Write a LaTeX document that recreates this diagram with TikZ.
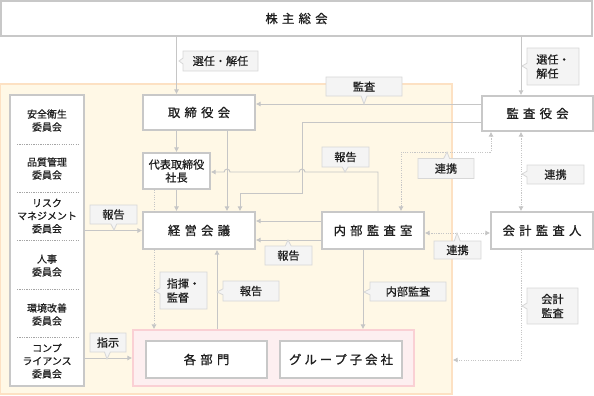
\documentclass[tikz,border=0pt]{standalone}
\usepackage{fontspec}
\setmainfont{Noto Sans CJK JP}[FakeBold=0.6]
\newfontfamily\ttlfont{Noto Sans CJK JP}[LetterSpace=35, FakeBold=1]
\newfontfamily\ttlnarrow{Noto Sans CJK JP}[LetterSpace=25, FakeBold=1]
\usepackage{xcolor}
\usetikzlibrary{arrows.meta,positioning,fit,calc,shapes.callouts}
\definecolor{boxline}{RGB}{200,200,200}
\definecolor{wire}{RGB}{198,198,198}
\definecolor{ink}{RGB}{30,30,30}
\definecolor{orgline}{RGB}{253,225,195}
\definecolor{orgfill}{RGB}{255,248,230}
\definecolor{pnkline}{RGB}{250,208,212}
\definecolor{pnkfill}{RGB}{253,239,240}
\definecolor{lblline}{RGB}{215,215,215}
\definecolor{lblfill}{RGB}{244,244,244}

\begin{document}
\begin{tikzpicture}[x=0.03cm, y=-0.03cm,
  box/.style={draw=boxline, line width=1.5pt, fill=white, text=ink, align=center, inner sep=1pt},
  ttl/.style={box, font=\ttlfont\fontsize{10.5}{13}\selectfont},
  area/.style={line width=1.5pt, inner sep=0pt},
  cmte/.style={text=ink, align=center, font=\fontsize{8.5}{11}\selectfont},
  lbl/.style={rectangle callout, draw=lblline, fill=lblfill, line width=0.7pt, text=ink, align=center, inner sep=1pt, callout pointer width=5pt, font=\fontsize{9.5}{12}\selectfont},
  arr/.style={-{Latex[length=4pt,width=4.5pt]}, line width=0.8pt, wire},
  dotarr/.style={arr, dash pattern=on 1pt off 1pt},
  dboth/.style={dotarr, {Latex[length=4pt,width=4.5pt]}-{Latex[length=4pt,width=4.5pt]}},
  sepline/.style={ink!40, dash pattern=on 1pt off 1pt, line width=0.6pt}
]
\useasboundingbox (0,0) rectangle (594,396);
% --- areas ---
\node[area, draw=orgline, fill=orgfill, fit={(0,84)(452,394)}] (corp) {};
\node[area, draw=pnkline, fill=pnkfill, fit={(133,330)(414,386)}] (grpco) {};
% --- boxes ---
\node[ttl, minimum width=17.73cm, minimum height=1.05cm] (gm)   at (296.5,18.5) {株主総会};
\node[ttl, minimum width=3.36cm,  minimum height=1.05cm] (bod)  at (199,112.5)  {取締役会};
\node[box, font=\fontsize{9.5}{11}\selectfont, minimum width=2.01cm, minimum height=1.08cm] (ceo) at (176.5,171) {代表取締役\\社長};
\node[ttl, minimum width=3.36cm,  minimum height=1.11cm] (mgmt) at (199,230.5)  {経営会議};
\node[ttl, minimum width=3.06cm,  minimum height=1.11cm] (ia)   at (373,230.5)  {内部監査室};
\node[ttl, minimum width=3.33cm,  minimum height=1.05cm] (aud)  at (537.5,113.5) {監査役会};
\node[ttl, minimum width=3.06cm,  minimum height=1.11cm] (acc)  at (542,230.5)  {会計監査人};
\node[ttl, minimum width=3.63cm,  minimum height=1.11cm] (div)  at (206.5,359.5) {各部門};
\node[ttl, font=\ttlnarrow\fontsize{10.5}{13}\selectfont, minimum width=3.66cm, minimum height=1.11cm] (sub) at (341,359.5) {グループ子会社};
% --- committees ---
\node[box, minimum width=2.22cm, minimum height=8.73cm] (comm) at (47,240.5) {};
\node[cmte] (c1) at (47,120.5) {安全衛生\\委員会};
\node[cmte] (c2) at (47,168.5) {品質管理\\委員会};
\node[cmte] (c3) at (47,216)   {リスク\\マネジメント\\委員会};
\node[cmte] (c4) at (47,265.5) {人事\\委員会};
\node[cmte] (c5) at (47,314.5) {環境改善\\委員会};
\node[cmte] (c6) at (47,361)   {コンプ\\ライアンス\\委員会};
\foreach \y in {144,192,240,289,337}
  \draw[sepline] (17,\y) -- (78,\y);
% --- appointment ---
\coordinate (rx) at (521,0);
\draw[arr] (gm.south -| ceo) -- (bod.north -| ceo);
\draw[arr] (gm.south -| rx) -- (aud.north -| rx);
% --- board and management ---
\draw[arr] (bod.south -| ceo) -- (ceo.north);
\draw[arr] (ceo.south) -- (mgmt.north -| ceo);
\draw[arr] (bod.south -| 227,0) -- (mgmt.north -| 227,0);
% --- audit ---
\draw[arr] (aud.west |- 0,104) -- (bod.east |- 0,104);
\draw[arr] (aud.west |- 0,122) -- (302,122) -- (302,193) -- (240,193) -- (mgmt.north -| 240,0);
\draw[arr] (ia.north -| 378,0) -- (378,172) -- (305,172) arc (0:180:2.5pt) -- (230,172) arc (0:180:2.5pt) -- (ceo.east |- 0,172);
% --- liaison ---
\draw[dboth] (aud.south -| 491,0) -- (491,152) -- (401,152) -- (ia.north -| 401,0);
\draw[dboth] (aud.south -| rx) -- (acc.north -| rx);
\draw[dboth] (ia.east |- 0,233) -- (acc.west |- 0,233);
% --- reports ---
\draw[arr] (ia.west |- 0,221) -- (mgmt.east |- 0,221);
\draw[arr] (ia.west |- 0,240) -- (mgmt.east |- 0,240);
\draw[arr] (comm.east |- mgmt) -- (mgmt.west);
\draw[arr] (comm.east |- grpco) -- (grpco.west);
\draw[arr] (grpco.north -| 217,0) -- (mgmt.south -| 217,0);
% --- command and audit of divisions ---
\draw[dotarr, -] (ceo.south -| 154,0) -- (mgmt.north -| 154,0);
\draw[dotarr] (mgmt.south -| 154,0) -- (grpco.north -| 154,0);
\draw[arr] (ia.south -| 363,0) -- (grpco.north -| 363,0);
\draw[dotarr] (acc.south -| rx) |- (corp.east |- 0,360);
% --- labels ---
\node[lbl, minimum width=2.25cm, minimum height=0.6cm, callout absolute pointer={(179,61)}] (l1) at (220.5,61) {選任・解任};
\node[lbl, align=left, minimum width=1.56cm, minimum height=1.11cm, callout absolute pointer={(522,66)}] (l2) at (553,66.5) {選任・\\解任};
\node[lbl, minimum width=2.28cm, minimum height=0.57cm, callout absolute pointer={(364,104)}] (l3) at (364,86.5) {監査};
\node[lbl, minimum width=1.41cm, minimum height=0.6cm, callout absolute pointer={(345,172)}] (l4) at (345.5,157) {報告};
\node[lbl, minimum width=1.68cm, minimum height=0.6cm, callout absolute pointer={(447,152)}] (l5) at (446,168.5) {連携};
\node[lbl, minimum width=1.71cm, minimum height=0.57cm, callout absolute pointer={(522,174)}] (l6) at (555.5,174.5) {連携};
\node[lbl, minimum width=1.41cm, minimum height=0.57cm, callout absolute pointer={(114,230)}] (l7) at (113.5,214.5) {報告};
\node[lbl, minimum width=1.41cm, minimum height=0.57cm, callout absolute pointer={(288,240)}] (l8) at (288.5,255.5) {報告};
\node[lbl, minimum width=1.41cm, minimum height=0.54cm, callout absolute pointer={(457,233)}] (l9) at (457.5,250) {連携};
\node[lbl, align=left, minimum width=1.41cm, minimum height=1.11cm, callout absolute pointer={(155,291)}] (l10) at (183.5,290.5) {指揮・\\監督};
\node[lbl, minimum width=1.68cm, minimum height=0.6cm, callout absolute pointer={(217,292)}] (l11) at (251,291) {報告};
\node[lbl, minimum width=2.28cm, minimum height=0.57cm, callout absolute pointer={(364,292)}] (l12) at (408,291.5) {内部監査};
\node[lbl, minimum width=1.53cm, minimum height=1.08cm, callout absolute pointer={(522,306)}] (l13) at (552.5,306) {会計\\監査};
\node[lbl, minimum width=1.08cm, minimum height=0.57cm, callout absolute pointer={(107,359)}] (l14) at (108,342.5) {指示};
\end{tikzpicture}
\end{document}
